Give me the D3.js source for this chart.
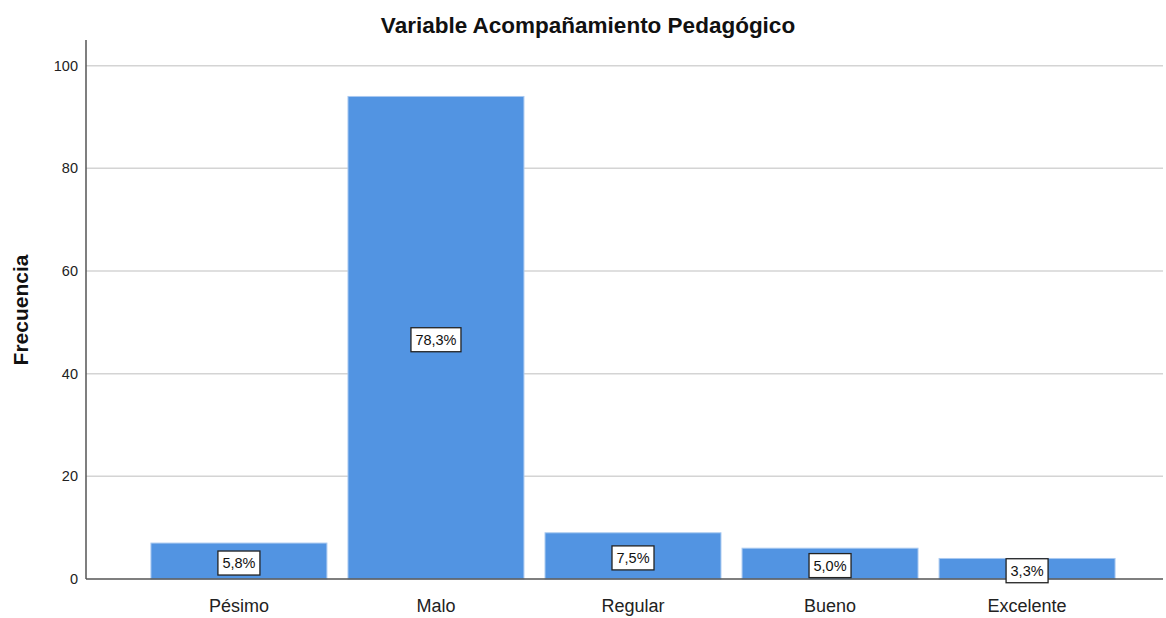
<!DOCTYPE html>
<meta charset="utf-8">
<style>
body { margin: 0; background: #fff; }
.grid line { stroke: #d4d4d4; stroke-width: 1.5px; }
.axis text { font-family: "Liberation Sans", Arial, sans-serif; font-size: 14.5px; fill: #222; }
.cat { font-family: "Liberation Sans Narrow", "Arial Narrow", "Liberation Sans", sans-serif; font-size: 18px; fill: #222; }
.bar { fill: #5294e2; stroke: #a9c9f0; stroke-width: 1px; }
.lbl { font-family: "Liberation Sans", Arial, sans-serif; font-size: 14.5px; fill: #111; }
</style>
<body>
<script src="https://cdn.jsdelivr.net/npm/d3@7"></script>
<script>

// data
var categories = ["Pésimo", "Malo", "Regular", "Bueno", "Excelente"];
var counts = [7, 94, 9, 6, 4];
var percents = ["5,8%", "78,3%", "7,5%", "5,0%", "3,3%"];
var yTicks = [0, 20, 40, 60, 80, 100];

var W = 1166, H = 618;
var plotLeft = 86, plotRight = 1163, plotTop = 40, plotBottom = 579;

var svg = d3.select("body").append("svg")
    .attr("width", W)
    .attr("height", H);

// scales
var x = d3.scaleBand()
    .domain(categories)
    .range([140.5, 1125.5])
    .paddingInner(0.107)
    .paddingOuter(0.053);

var y = d3.scaleLinear().domain([0, 105]).range([plotBottom, plotTop]);

// grid lines
svg.append("g").attr("class", "grid")
  .selectAll("line")
  .data(yTicks.filter(function(d) { return d > 0; }))
  .enter().append("line")
    .attr("x1", plotLeft).attr("x2", plotRight)
    .attr("y1", function(d) { return y(d); })
    .attr("y2", function(d) { return y(d); });

// bars
svg.selectAll(".bar")
    .data(counts)
  .enter().append("rect")
    .attr("class", "bar")
    .attr("x", function(d, i) { return x(categories[i]); })
    .attr("width", x.bandwidth())
    .attr("y", function(d) { return y(d); })
    .attr("height", function(d) { return plotBottom - y(d); });

// y axis
var yAxis = svg.append("g")
    .attr("class", "axis")
    .attr("transform", "translate(" + plotLeft + ",0)")
    .call(d3.axisLeft(y).tickValues(yTicks).tickSize(0).tickPadding(8));
yAxis.select(".domain").remove();
svg.append("line")
    .attr("x1", plotLeft).attr("x2", plotLeft)
    .attr("y1", plotTop).attr("y2", plotBottom)
    .attr("stroke", "#555").attr("stroke-width", 1.5);

// x baseline
svg.append("line")
    .attr("x1", plotLeft).attr("x2", plotRight)
    .attr("y1", plotBottom).attr("y2", plotBottom)
    .attr("stroke", "#555").attr("stroke-width", 1.5);

// category labels
svg.selectAll(".cat")
    .data(categories)
  .enter().append("text")
    .attr("class", "cat")
    .attr("x", function(d) { return x(d) + x.bandwidth() / 2; })
    .attr("y", 612)
    .attr("text-anchor", "middle")
    .text(function(d) { return d; });

// percentage labels
var lbl = svg.selectAll(".lblg")
    .data(counts)
  .enter().append("g")
    .attr("transform", function(d, i) {
      var cx = x(categories[i]) + x.bandwidth() / 2;
      var cy = (y(d) + plotBottom) / 2 + 2;
      return "translate(" + cx + "," + cy + ")";
    });

lbl.append("rect")
    .attr("fill", "#fff")
    .attr("stroke", "#222")
    .attr("stroke-width", 1.3)
    .attr("y", -12).attr("height", 24)
    .attr("x", function(d, i) { return percents[i].length > 4 ? -25 : -21; })
    .attr("width", function(d, i) { return percents[i].length > 4 ? 50 : 42; });

lbl.append("text")
    .attr("class", "lbl")
    .attr("text-anchor", "middle")
    .attr("dy", "0.36em")
    .text(function(d, i) { return percents[i]; });

// title
svg.append("text")
    .attr("x", 588).attr("y", 33)
    .attr("text-anchor", "middle")
    .style("font-family", "'Liberation Sans', Arial, sans-serif")
    .style("font-size", "22.5px")
    .style("font-weight", "bold")
    .style("fill", "#111")
    .text("Variable Acompañamiento Pedagógico");

// y axis title
svg.append("text")
    .attr("transform", "translate(28,310) rotate(-90)")
    .attr("text-anchor", "middle")
    .style("font-family", "'Liberation Sans Narrow', 'Arial Narrow', 'Liberation Sans', sans-serif")
    .style("font-size", "21px")
    .style("font-weight", "bold")
    .style("fill", "#111")
    .text("Frecuencia");

</script>
</body>
